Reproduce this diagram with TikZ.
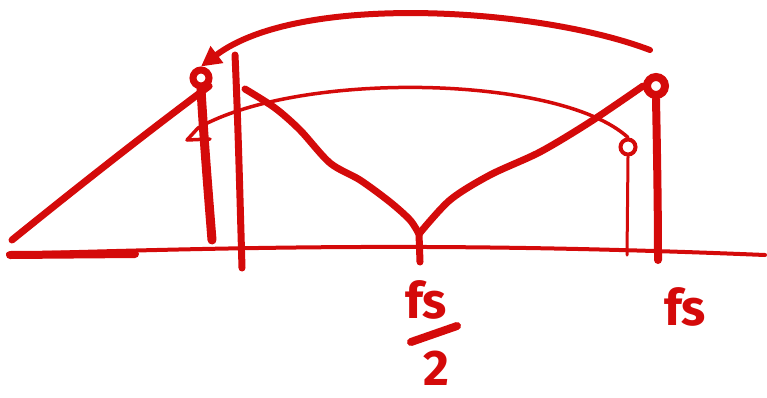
\documentclass[tikz,border=0pt]{standalone}
\usepackage{fontspec}
\setmainfont{Fira Sans}
\usetikzlibrary{arrows.meta, positioning}
\definecolor{inkred}{HTML}{D40A0A}

\begin{document}
\begin{tikzpicture}[
    x=1pt, y=-1pt,
    ink/.style={draw=inkred, line width=#1, line cap=round, line join=round},
    ink/.default=4pt,
    peak/.style={circle, draw=inkred, line width=#1, inner sep=0pt, minimum size=16pt},
    label/.style={text=inkred, font=\fontsize{50}{54}\selectfont\bfseries, inner sep=0pt},
]
    \useasboundingbox (0,0) rectangle (767,397);

    % axis
    \draw[ink=4pt] (8,254) .. controls (250,247) and (450,242) .. (765,255);
    \draw[ink=8pt] (10,255) -- (135,254);

    % original spectrum and its sample lines
    \node[peak=7pt] (peakL) at (201,78) {};
    \node[peak=8pt, minimum size=18pt] (peakR) at (656,86) {};
    \node[peak=4pt, minimum size=15pt] (peakA) at (628,147) {};
    \coordinate (baseL) at (212,240);
    \coordinate (baseR) at (658,260);
    \coordinate (baseA) at (627,255);
    \coordinate (halfT) at (419,234);
    \coordinate (halfB) at (420,262);

    \draw[ink=7pt] (12,240) .. controls (80,185) and (150,130) .. (peakL.south east);
    \draw[ink=9pt] (peakL.south) .. controls (204,140) and (208,190) .. (baseL);
    \draw[ink=7pt] (235,55) .. controls (238,120) and (240,200) .. (242,268);
    \draw[ink=7pt] plot[smooth, tension=0.5] coordinates {(245,89) (275,108) (300,130)
        (330,163) (360,180) (390,202) (410,220) (halfT)};
    \draw[ink=7pt] plot[smooth, tension=0.5] coordinates {(halfT) (450,200) (490,175)
        (540,152) (590,122) (peakR.west)};
    \draw[ink=7pt] (halfT) -- (halfB);
    \draw[ink=8pt] (peakR.south) .. controls (657,150) and (658,210) .. (baseR);

    % aliased copy
    \draw[ink=3pt] (peakA.south) -- (baseA);
    \draw[ink=3.5pt] (peakA.north) .. controls (560,75) and (300,70) .. (198,128)
        -- (187,140) -- (210,139);

    % folding arrow
    \coordinate (arcS) at (650,50);
    \draw[ink=6pt, -{Triangle[length=20pt, width=20pt]}] (arcS)
        .. controls (540,8) and (300,-8) .. (peakL.north);

    % labels
    \node[label] (fsHalf) at (426,300) {fs};
    \draw[ink=8pt] (411,342) -- (457,326);
    \node[label] (two) at (436,368) {2};
    \node[label] (fsFull) at (685,307) {fs};
\end{tikzpicture}
\end{document}
